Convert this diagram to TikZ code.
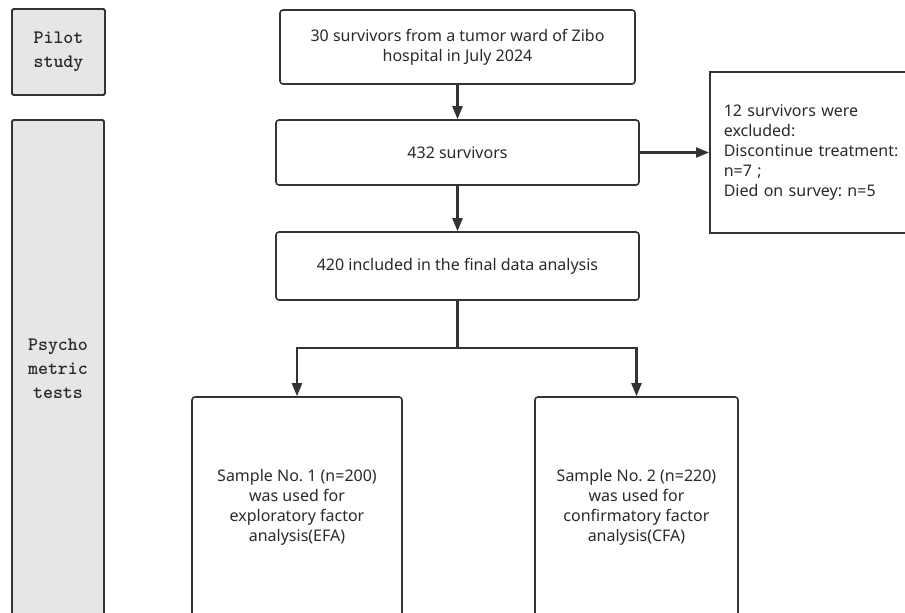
\documentclass[tikz,border=0pt]{standalone}
\usepackage{fontspec}
\setmainfont{Noto Sans}
\usetikzlibrary{arrows.meta}
\definecolor{ln}{HTML}{333333}
\definecolor{txt}{HTML}{2a2a2a}
\definecolor{side}{HTML}{E6E6E6}
\frenchspacing
\begin{document}
\begin{tikzpicture}[x=1pt,y=-1pt,
  box/.style={draw=ln,line width=1.6pt,rounded corners=3pt,align=center,
    text=txt,font=\fontsize{16}{20}\selectfont,inner sep=0pt},
  sidebox/.style={draw=ln,line width=1.8pt,rounded corners=1.5pt,fill=side,
    align=center,text=txt,font=\ttfamily\bfseries\fontsize{19}{24}\selectfont,inner sep=0pt},
  conn/.style={draw=ln,line width=2.2pt,-{Triangle[length=13pt,width=10pt]}},
  plain/.style={draw=ln,line width=2.2pt}]
\useasboundingbox (0,0) rectangle (905,613);
\clip (0,0) rectangle (905,613);
\fill[white] (0,0) rectangle (905,613);

\node[sidebox,minimum width=93pt,minimum height=86pt] (pilot) at (58.5,52) {Pilot\\study};
\node[sidebox,minimum width=92pt,minimum height=498pt] (psy) at (58,369) {Psycho\\metric\\tests};

\node[box,minimum width=355pt,minimum height=74pt] (b30) at (457.5,47)
  {30 survivors from a tumor ward of Zibo\\hospital in July 2024};
\node[box,minimum width=363pt,minimum height=65pt] (b432) at (457.5,152.5) {432 survivors};
\node[box,minimum width=363pt,minimum height=68pt] (b420) at (457.5,266) {420 included in the final data analysis};
\node[box,rounded corners=0pt,anchor=west,minimum height=161pt,text width=190pt,
  inner xsep=14pt,align=left] (excl) at (709,152.5)
  {12 survivors were\\excluded:\\Discontinue treatment:\\n=7 ;\\Died on survey: n=5};

\node[box,minimum width=210pt,minimum height=220pt] (s1) at (297,507)
  {Sample No. 1 (n=200)\\was used for\\exploratory factor\\analysis(EFA)};
\node[box,minimum width=203pt,minimum height=220pt] (s2) at (636.5,507)
  {Sample No. 2 (n=220)\\was used for\\confirmatory factor\\analysis(CFA)};

\coordinate (split) at (457.5,348);
\path[conn] (b30) -- (b432);
\path[conn] (b432) -- (b420);
\path[conn] (b432.east) -- (excl.west);
\path[plain] (b420.south) -- (split);
\path[conn] (split) -| (s1.north);
\path[conn] (split) -| (s2.north);
\end{tikzpicture}
\end{document}
